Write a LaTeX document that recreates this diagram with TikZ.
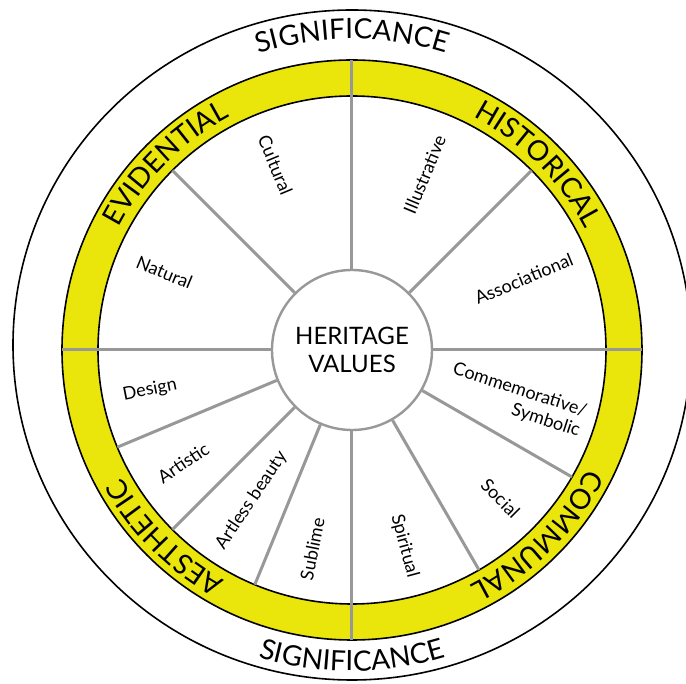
\documentclass[tikz,border=0pt]{standalone}
\usepackage{fontspec}
\setmainfont{Lato}
\usetikzlibrary{decorations.text}
\definecolor{bandyellow}{RGB}{234,230,12}
\definecolor{spokegray}{RGB}{152,152,152}

\begin{document}
\begin{tikzpicture}[x=0.5pt,y=0.5pt,
    ring/.style={black, line width=0.8pt},
    spoke/.style={spokegray, line width=1.5pt},
    value/.style={font=\fontsize{9}{10.5}\selectfont},
    bandtext/.style={decorate, decoration={text along path, text align=center, text={|\fontsize{14}{14}\selectfont|#1}}}]
    \useasboundingbox (-352,-334) rectangle (334,350);

    % Outer ring and yellow band
    \draw[ring] (0,5) ellipse (339 and 335);
    \fill[bandyellow, even odd rule] (0,0) circle (290) (0,0) circle (254);
    \draw[ring] (0,0) circle (290) (0,0) circle (254);

    % Centre
    \node[circle, draw=spokegray, line width=1.2pt, minimum size=80pt, inner sep=0pt,
          align=center, font=\fontsize{12}{14}\selectfont] (hv) at (0,0) {HERITAGE\\VALUES};

    % Spokes
    \foreach \a in {0,90,180,270}
        \draw[spoke] (hv.\a) -- (\a:290);
    \foreach \a in {45,135,202.5,225,247.5,300,330}
        \draw[spoke] (hv.\a) -- (\a:254);

    % Significance
    \path[bandtext=SIGNIFICANCE] (150:311) arc (150:30:311);
    \path[bandtext=SIGNIFICANCE] (230:321) arc (230:310:321);

    % Band labels
    \path[bandtext=EVIDENTIAL] (175:263) arc (175:95:263);
    \path[bandtext=HISTORICAL] (85:263) arc (85:5:263);
    \path[bandtext=COMMUNAL] (-5:263) arc (-5:-85:263);
    \path[bandtext=AESTHETIC] (265:263) arc (265:185:263);

    % Values
    \node[value, rotate=-67.5] (cultural) at (112.5:200) {Cultural};
    \node[value, rotate=-22.5] (natural) at (157.5:203) {Natural};
    \node[value, rotate=67.5] (illustrative) at (67.5:190) {Illustrative};
    \node[value, rotate=22.5] (associational) at (22.5:186) {Associational};
    \node[value, rotate=-18, align=right] (commemorative) at (343:172) {Commemorative/\\Symbolic};
    \node[value, rotate=-45] (social) at (315:210) {Social};
    \node[value, rotate=-75] (spiritual) at (285:203) {Spiritual};
    \node[value, rotate=78.75] (sublime) at (258.75:203) {Sublime};
    \node[value, rotate=56.25] (artless) at (236.25:181) {Artless beauty};
    \node[value, rotate=33.75] (artistic) at (213.75:203) {Artistic};
    \node[value, rotate=11.25] (design) at (191.25:206) {Design};

\end{tikzpicture}
\end{document}
